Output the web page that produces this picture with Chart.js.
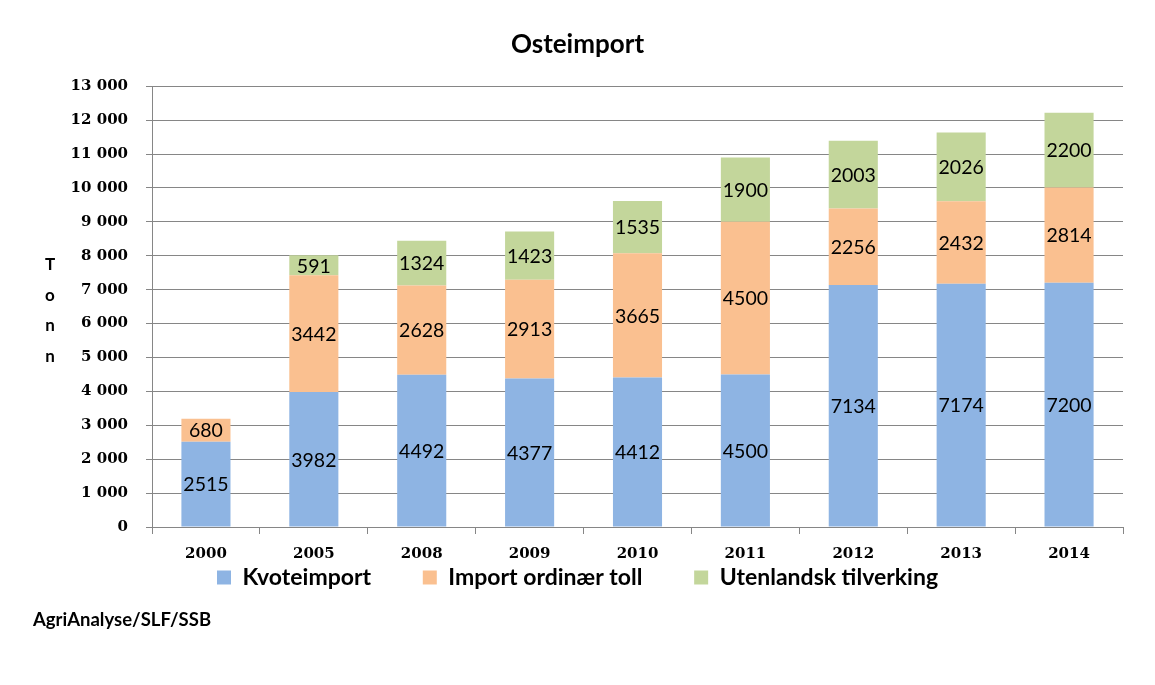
<!DOCTYPE html>
<html>
<head>
<meta charset="utf-8">
<title>Osteimport</title>
<script src="https://cdn.jsdelivr.net/npm/chart.js@4/dist/chart.umd.min.js"></script>
<style>
  html, body { margin: 0; padding: 0; background: #fff; }
  #wrap { position: relative; width: 1155px; height: 685px; }
  #source {
    position: absolute; left: 33px; top: 608px;
    font: bold 18.5px Lato, sans-serif; color: #000;
  }
</style>
</head>
<body>
<div id="wrap">
  <canvas id="osteChart"></canvas>
  <div id="source">AgriAnalyse/SLF/SSB</div>
</div>
<script>
const years = ['2000', '2005', '2008', '2009', '2010', '2011', '2012', '2013', '2014'];
const kvoteimport = [2515, 3982, 4492, 4377, 4412, 4500, 7134, 7174, 7200];
const importOrdinaer = [680, 3442, 2628, 2913, 3665, 4500, 2256, 2432, 2814];
const utenlandsk = [null, 591, 1324, 1423, 1535, 1900, 2003, 2026, 2200];
const yTicks = [0, 1000, 2000, 3000, 4000, 5000, 6000, 7000, 8000, 9000, 10000, 11000, 12000, 13000];
const axisTitle = ['T', 'o', 'n', 'n'];

const gridColor = '#868686';

// tall i bar-segmentene
const barLabels = {
  id: 'barLabels',
  afterDatasetsDraw(chart) {
    const ctx = chart.ctx;
    ctx.save();
    ctx.font = '19.5px Lato';
    ctx.fillStyle = '#000';
    ctx.textAlign = 'center';
    ctx.textBaseline = 'middle';
    chart.data.datasets.forEach((ds, i) => {
      chart.getDatasetMeta(i).data.forEach((bar, j) => {
        const v = ds.data[j];
        if (!v) return;
        const { x, y, base } = bar.getProps(['x', 'y', 'base'], true);
        ctx.fillText(v, x, (y + base) / 2 + 1);
      });
    });
    ctx.restore();
  }
};

// "Tonn" med loddrette bokstaver
const stackedAxisTitle = {
  id: 'stackedAxisTitle',
  afterDraw(chart) {
    const ctx = chart.ctx;
    const area = chart.chartArea;
    const mid = (area.top + area.bottom) / 2 + 9.5;
    ctx.save();
    ctx.font = 'bold 17px Lato';
    ctx.fillStyle = '#000';
    ctx.textAlign = 'center';
    ctx.textBaseline = 'alphabetic';
    axisTitle.forEach((ch, i) => {
      ctx.fillText(ch, 50, mid + (i - 1.5) * 30.5);
    });
    ctx.restore();
  }
};

new Chart(document.getElementById('osteChart'), {
  type: 'bar',
  data: {
    labels: years,
    datasets: [
      { label: 'Kvoteimport', data: kvoteimport, backgroundColor: '#8EB4E3' },
      { label: 'Import ordinær toll', data: importOrdinaer, backgroundColor: '#FAC090' },
      { label: 'Utenlandsk tilverking', data: utenlandsk, backgroundColor: '#C3D69B' }
    ]
  },
  options: {
    responsive: true,
    maintainAspectRatio: false,
    animation: false,
    barPercentage: 0.455,
    categoryPercentage: 1,
    layout: { padding: { left: 0, right: 0, top: 0, bottom: 86 } },
    plugins: {
      title: {
        display: true,
        text: 'Osteimport',
        color: '#000',
        font: { family: 'Lato', size: 26, weight: 'bold' },
        padding: { top: 29, bottom: 26 }
      },
      legend: {
        position: 'bottom',
        labels: {
          color: '#000',
          font: { family: 'Lato', size: 23, weight: 'bold' },
          boxWidth: 14,
          boxHeight: 14,
          padding: 7,
          generateLabels(chart) {
            const items = Chart.defaults.plugins.legend.labels.generateLabels(chart);
            items.forEach((it, i) => {
              if (i < items.length - 1) it.text += '\u00a0'.repeat(8);
            });
            return items;
          }
        }
      },
      tooltip: { enabled: false }
    },
    scales: {
      x: {
        stacked: true,
        afterFit(scale) { scale.height -= 15; },
        grid: {
          offset: true,
          drawOnChartArea: false,
          drawTicks: true,
          tickLength: 7,
          color: gridColor
        },
        border: { display: true, color: gridColor },
        ticks: {
          color: '#000',
          padding: 11,
          font: { family: 'DejaVu Serif', size: 15, weight: 'bold' }
        }
      },
      y: {
        stacked: true,
        min: 0,
        max: 13000,
        afterFit(scale) { scale.width = 152; },
        afterBuildTicks(scale) { scale.ticks = yTicks.map(v => ({ value: v })); },
        grid: { color: gridColor, tickLength: 6 },
        border: { display: true, color: gridColor },
        ticks: {
          color: '#000',
          padding: 18,
          font: { family: 'DejaVu Serif', size: 15, weight: 'bold' },
          callback: val => val.toLocaleString('en-US').replace(/,/g, ' ')
        }
      },
      // tom plass til høyre for plottet
      yRight: {
        position: 'right',
        min: 0,
        max: 13000,
        afterFit(scale) { scale.width = 32; },
        grid: { display: false },
        border: { display: false },
        ticks: { display: false }
      }
    }
  },
  plugins: [barLabels, stackedAxisTitle]
});
</script>
</body>
</html>
